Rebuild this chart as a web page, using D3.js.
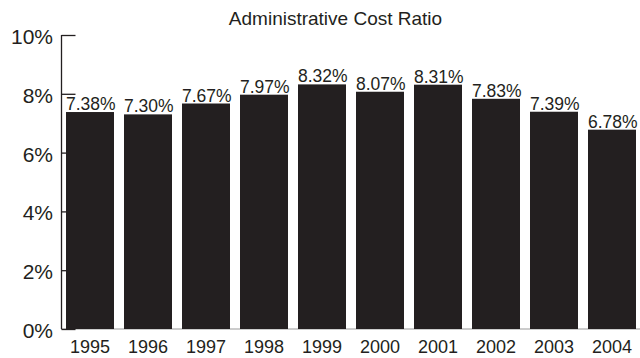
<!DOCTYPE html>
<html><head><meta charset="utf-8">
<script src="https://cdn.jsdelivr.net/npm/d3@7"></script>
<style>html,body{margin:0;padding:0;background:#fff;}svg{display:block;}</style>
</head><body>
<svg id="chart" width="640" height="358"></svg>
<script>
const years = ["1995","1996","1997","1998","1999","2000","2001","2002","2003","2004"];
const ratios = [7.38, 7.30, 7.67, 7.97, 8.32, 8.07, 8.31, 7.83, 7.39, 6.78];
const yTicks = [0, 2, 4, 6, 8, 10];
const title = "Administrative Cost Ratio";

const svg = d3.select("#chart");
const font = "'Liberation Sans', Arial, Helvetica, sans-serif";
const ink = "#231f20";

const x = d3.scaleBand().domain(years).range([61, 641]).paddingInner(10/58).paddingOuter(5/58);
const y = d3.scaleLinear().domain([0, 10]).range([329, 35]);

// baseline
svg.append("line").attr("x1", 61).attr("x2", 640).attr("y1", y(0)).attr("y2", y(0))
  .attr("stroke", "#9a9a9a").attr("stroke-width", 1.2);

// y axis
const yAxis = d3.axisRight(y).tickValues(yTicks).tickSize(14).tickFormat("");
const gy = svg.append("g").attr("transform", "translate(61.5,0)").call(yAxis);
gy.select(".domain").attr("stroke", ink).attr("stroke-width", 1.3).attr("d", `M0,${y(10)}V${y(0)}`);
gy.selectAll(".tick line").attr("stroke", ink).attr("stroke-width", 1.3);

svg.append("g").selectAll("text").data(yTicks).join("text")
  .attr("x", 53).attr("y", d => y(d) + 9)
  .attr("text-anchor", "end").attr("font-family", font).attr("font-size", 21).attr("fill", ink)
  .text(d => d + "%");

// bars
svg.append("g").selectAll("rect").data(ratios).join("rect")
  .attr("x", (d, i) => x(years[i])).attr("width", x.bandwidth())
  .attr("y", d => y(d)).attr("height", d => y(0) - y(d))
  .attr("fill", ink);

// value labels
svg.append("g").selectAll("text").data(ratios).join("text")
  .attr("x", (d, i) => x(years[i])).attr("y", d => y(d) - 2)
  .attr("font-family", font).attr("font-size", 17.5).attr("fill", ink)
  .text(d => d.toFixed(2) + "%");

// year labels
svg.append("g").selectAll("text").data(years).join("text")
  .attr("x", d => x(d) + x.bandwidth() / 2).attr("y", 353)
  .attr("text-anchor", "middle").attr("font-family", font).attr("font-size", 18).attr("fill", ink)
  .text(d => d);

// title
svg.append("text").attr("x", 335.5).attr("y", 25).attr("text-anchor", "middle")
  .attr("font-family", font).attr("font-size", 19).attr("fill", ink).text(title);
</script>
</body></html>
